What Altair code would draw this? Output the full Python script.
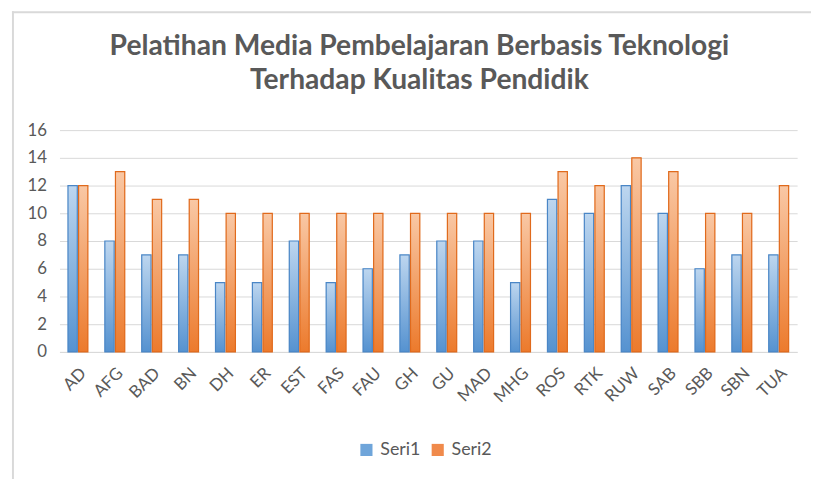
import altair as alt
import pandas as pd

cats = ["AD", "AFG", "BAD", "BN", "DH", "ER", "EST", "FAS", "FAU", "GH",
        "GU", "MAD", "MHG", "ROS", "RTK", "RUW", "SAB", "SBB", "SBN", "TUA"]
seri1 = [12, 8, 7, 7, 5, 5, 8, 5, 6, 7, 8, 8, 5, 11, 10, 12, 10, 6, 7, 7]
seri2 = [12, 13, 11, 11, 10, 10, 10, 10, 10, 10, 10, 10, 10, 13, 12, 14, 13, 10, 10, 12]
series_names = ["Seri1", "Seri2"]
y_ticks = [0, 2, 4, 6, 8, 10, 12, 14, 16]
title_lines = ["Pelatihan Media Pembelajaran Berbasis Teknologi",
               "Terhadap Kualitas Pendidik"]

rows = []
for c, a, b in zip(cats, seri1, seri2):
    rows.append({"cat": c, "series": "Seri1", "value": a})
    rows.append({"cat": c, "series": "Seri2", "value": b})
df = pd.DataFrame(rows)

FONT = "Lato"
TXT = "#595959"


def grad(top, bottom):
    return alt.LinearGradient(
        gradient="linear",
        stops=[alt.GradientStop(color=top, offset=0),
               alt.GradientStop(color=bottom, offset=1)],
        x1=0, x2=0, y1=0, y2=1,
    )


x_enc = alt.X(
    "cat:N", sort=cats,
    scale=alt.Scale(domain=cats, paddingInner=0.46, paddingOuter=0.23),
    axis=alt.Axis(title=None, labelAngle=-45, labelFont=FONT, labelFontSize=17,
                  labelColor=TXT, ticks=False, domainColor="#d9d9d9",
                  domainWidth=1, labelPadding=13, grid=False),
)
xo_enc = alt.XOffset("series:N", scale=alt.Scale(domain=series_names, paddingInner=0.12))
y_enc = alt.Y(
    "value:Q", scale=alt.Scale(domain=[0, 16], nice=False),
    axis=alt.Axis(title=None, values=y_ticks, domain=False, ticks=False,
                  labelFont=FONT, labelFontSize=17, labelColor=TXT,
                  labelPadding=13, gridColor="#d9d9d9", gridWidth=1),
)

base = alt.Chart(df).mark_bar().encode(
    x=x_enc, xOffset=xo_enc, y=y_enc,
    color=alt.Color("series:N",
                    scale=alt.Scale(domain=series_names, range=["#6fa5da", "#f08a4b"]),
                    legend=alt.Legend(title=None, orient="none", legendX=301, legendY=314,
                                      direction="horizontal", symbolType="square",
                                      symbolSize=150, labelFont=FONT, labelFontSize=18,
                                      labelColor=TXT, columnPadding=8, labelOffset=5,
                                      symbolStrokeWidth=1)),
)

blue = alt.Chart(df).transform_filter("datum.series == 'Seri1'").mark_bar(
    fill=grad("#bdd6ef", "#5592d0"), stroke="#4a86c6", strokeWidth=1.2
).encode(x=x_enc, xOffset=xo_enc, y=y_enc)

orange = alt.Chart(df).transform_filter("datum.series == 'Seri2'").mark_bar(
    fill=grad("#f9c8a5", "#ec7a2c"), stroke="#e06a1c", strokeWidth=1.2
).encode(x=x_enc, xOffset=xo_enc, y=y_enc)

frame_data = alt.Data(values=[{}])
left_border = alt.Chart(frame_data).mark_rule(color="#d9d9d9", strokeWidth=2).encode(
    x=alt.value(-47), y=alt.value(-120), y2=alt.value(360))
top_border = alt.Chart(frame_data).mark_rule(color="#d9d9d9", strokeWidth=2).encode(
    x=alt.value(-48), x2=alt.value(770), y=alt.value(-119))

chart = alt.layer(left_border, top_border, base, blue, orange).properties(
    width=745, height=224,
    padding={"left": 52, "top": 121, "right": 14, "bottom": 126},
    autosize=alt.AutoSizeParams(type="none"),
    title=alt.TitleParams(text=title_lines, font=FONT, fontSize=28.5, fontWeight="bold",
                          color=TXT, anchor="middle", dx=-9, offset=-85, lineHeight=34),
).configure_view(stroke=None)

chart.save("out.html", embed_options={"renderer": "svg", "actions": False})
